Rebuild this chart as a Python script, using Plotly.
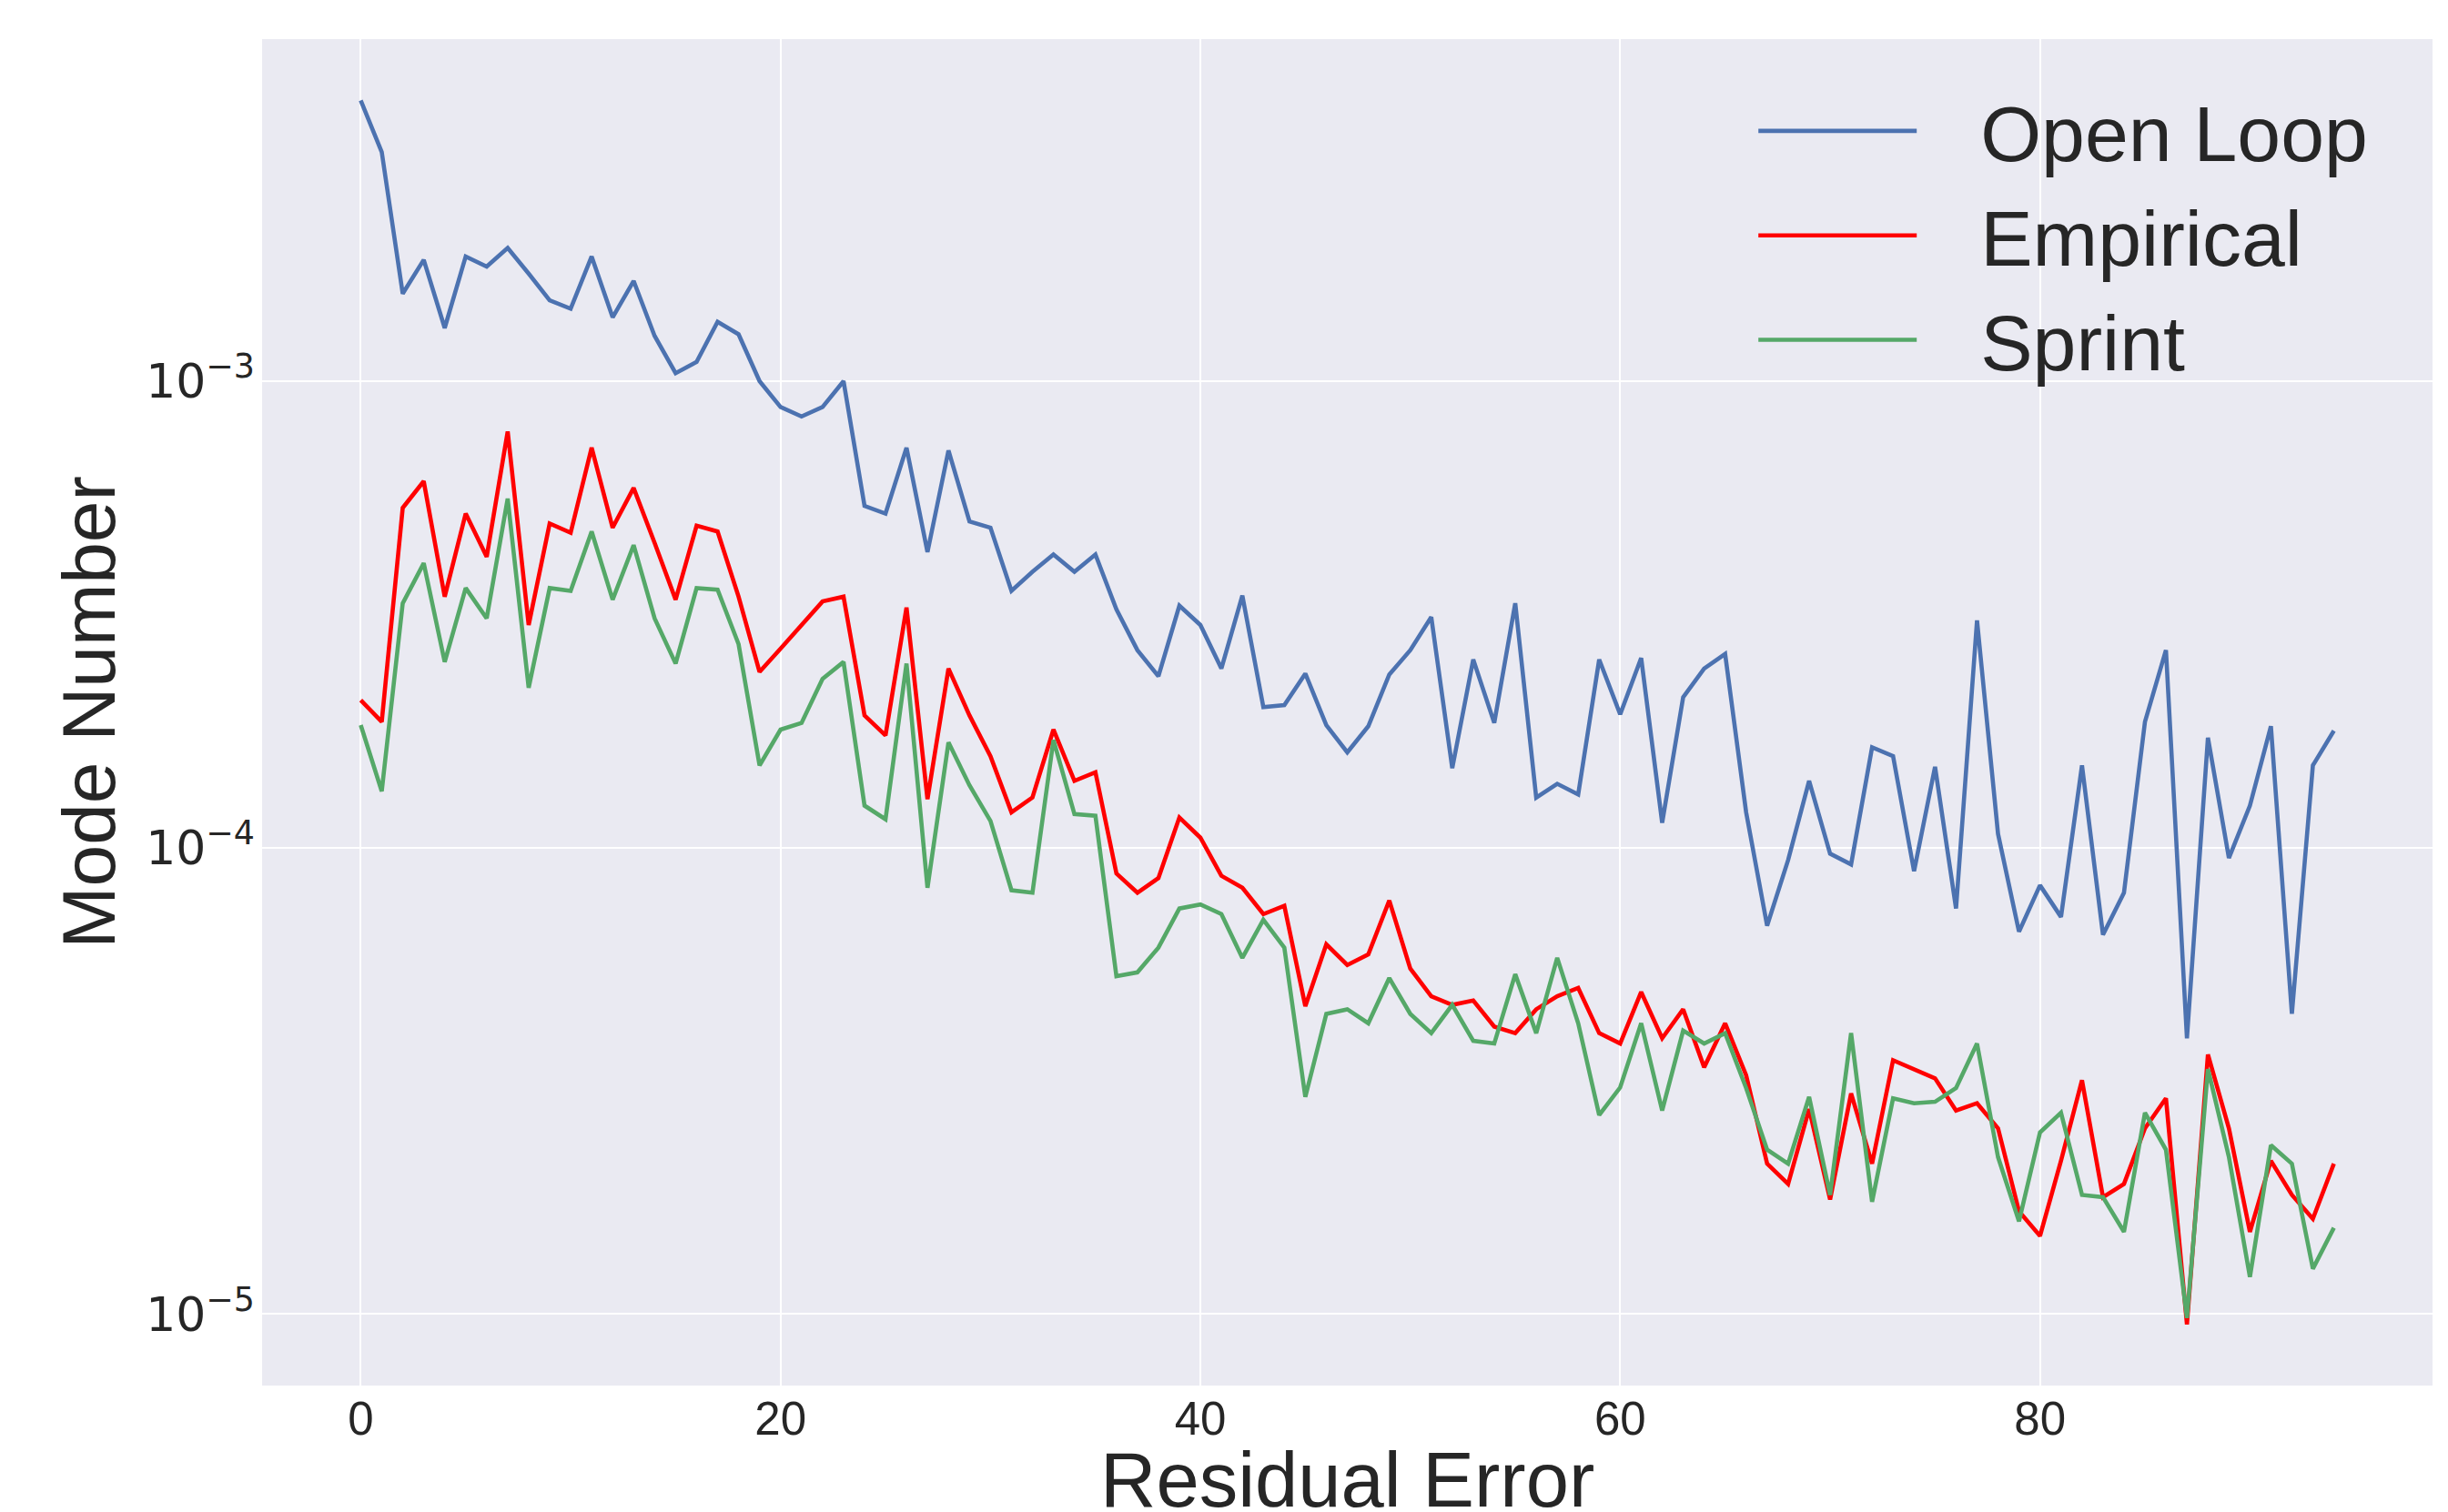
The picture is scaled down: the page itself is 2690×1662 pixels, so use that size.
import numpy as np
import plotly.graph_objects as go

residual_error = list(range(95))

open_loop = [
    4.0e-3, 3.1e-3, 1.54e-3, 1.82e-3, 1.30e-3, 1.85e-3, 1.76e-3, 1.93e-3, 1.70e-3, 1.49e-3,
    1.43e-3, 1.85e-3, 1.37e-3, 1.64e-3, 1.25e-3, 1.04e-3, 1.10e-3, 1.34e-3, 1.26e-3, 1.0e-3,
    8.8e-4, 8.4e-4, 8.8e-4, 1.0e-3, 5.4e-4, 5.2e-4, 7.2e-4, 4.3e-4, 7.1e-4, 5.0e-4,
    4.85e-4, 3.55e-4, 3.9e-4, 4.25e-4, 3.9e-4, 4.25e-4, 3.24e-4, 2.65e-4, 2.33e-4, 3.3e-4,
    3.0e-4, 2.42e-4, 3.47e-4, 2.0e-4, 2.02e-4, 2.36e-4, 1.83e-4, 1.6e-4, 1.82e-4, 2.35e-4,
    2.65e-4, 3.12e-4, 1.48e-4, 2.53e-4, 1.85e-4, 3.34e-4, 1.28e-4, 1.37e-4, 1.3e-4, 2.53e-4,
    1.93e-4, 2.55e-4, 1.13e-4, 2.1e-4, 2.42e-4, 2.6e-4, 1.19e-4, 6.8e-5, 9.4e-5, 1.39e-4,
    9.7e-5, 9.2e-5, 1.64e-4, 1.57e-4, 8.9e-5, 1.49e-4, 7.4e-5, 3.07e-4, 1.07e-4, 6.6e-5,
    8.3e-5, 7.1e-5, 1.5e-4, 6.5e-5, 8.0e-5, 1.86e-4, 2.65e-4, 3.9e-5, 1.72e-4, 9.5e-5,
    1.23e-4, 1.82e-4, 4.4e-5, 1.5e-4, 1.78e-4,
]

empirical = [
    2.07e-4, 1.86e-4, 5.35e-4, 6.1e-4, 3.45e-4, 5.2e-4, 4.2e-4, 7.8e-4, 3.0e-4, 4.95e-4,
    4.73e-4, 7.2e-4, 4.85e-4, 5.9e-4, 4.5e-4, 3.4e-4, 4.9e-4, 4.76e-4, 3.45e-4, 2.38e-4,
    2.67e-4, 3.0e-4, 3.37e-4, 3.45e-4, 1.92e-4, 1.74e-4, 3.27e-4, 1.27e-4, 2.42e-4, 1.92e-4,
    1.57e-4, 1.19e-4, 1.28e-4, 1.79e-4, 1.39e-4, 1.45e-4, 8.8e-5, 8.0e-5, 8.6e-5, 1.16e-4,
    1.05e-4, 8.7e-5, 8.2e-5, 7.2e-5, 7.5e-5, 4.57e-5, 6.2e-5, 5.6e-5, 5.9e-5, 7.7e-5,
    5.5e-5, 4.8e-5, 4.6e-5, 4.7e-5, 4.13e-5, 4.0e-5, 4.5e-5, 4.8e-5, 5.0e-5, 4.0e-5,
    3.8e-5, 4.9e-5, 3.9e-5, 4.5e-5, 3.38e-5, 4.2e-5, 3.25e-5, 2.1e-5, 1.9e-5, 2.75e-5,
    1.76e-5, 2.97e-5, 2.1e-5, 3.5e-5, 3.35e-5, 3.2e-5, 2.73e-5, 2.83e-5, 2.5e-5, 1.66e-5,
    1.47e-5, 2.13e-5, 3.17e-5, 1.78e-5, 1.9e-5, 2.5e-5, 2.9e-5, 9.5e-6, 3.6e-5, 2.5e-5,
    1.5e-5, 2.13e-5, 1.8e-5, 1.6e-5, 2.1e-5,
]

sprint = [
    1.83e-4, 1.32e-4, 3.34e-4, 4.07e-4, 2.5e-4, 3.6e-4, 3.1e-4, 5.6e-4, 2.2e-4, 3.6e-4,
    3.55e-4, 4.76e-4, 3.4e-4, 4.45e-4, 3.1e-4, 2.48e-4, 3.6e-4, 3.57e-4, 2.73e-4, 1.5e-4,
    1.79e-4, 1.85e-4, 2.3e-4, 2.5e-4, 1.23e-4, 1.15e-4, 2.48e-4, 8.2e-5, 1.68e-4, 1.36e-4,
    1.14e-4, 8.1e-5, 8.0e-5, 1.7e-4, 1.18e-4, 1.17e-4, 5.3e-5, 5.4e-5, 6.1e-5, 7.4e-5,
    7.55e-5, 7.2e-5, 5.8e-5, 7.0e-5, 6.1e-5, 2.92e-5, 4.4e-5, 4.5e-5, 4.2e-5, 5.25e-5,
    4.4e-5, 4.0e-5, 4.6e-5, 3.85e-5, 3.8e-5, 5.35e-5, 4.0e-5, 5.8e-5, 4.2e-5, 2.67e-5,
    3.06e-5, 4.2e-5, 2.73e-5, 4.05e-5, 3.8e-5, 4.0e-5, 3.05e-5, 2.25e-5, 2.1e-5, 2.92e-5,
    1.8e-5, 4.0e-5, 1.74e-5, 2.9e-5, 2.83e-5, 2.85e-5, 3.05e-5, 3.8e-5, 2.17e-5, 1.58e-5,
    2.45e-5, 2.7e-5, 1.8e-5, 1.78e-5, 1.5e-5, 2.7e-5, 2.25e-5, 9.8e-6, 3.35e-5, 2.17e-5,
    1.2e-5, 2.3e-5, 2.1e-5, 1.25e-5, 1.53e-5,
]

series_names = ["Open Loop", "Empirical", "Sprint"]
series_colors = ["#4C72B0", "#FF0000", "#55A868"]

y_tick_vals = [1e-5, 1e-4, 1e-3]
y_tick_text = ["10<sup>−5</sup>", "10<sup>−4</sup>", "10<sup>−3</sup>"]
x_tick_vals = [0, 20, 40, 60, 80]
x_title = "Residual Error"
y_title = "Mode Number"

GAP = "\u00a0\u00a0\u2009"  # visual gap between legend line and label

fig = go.Figure()
for name, vals, col in zip(series_names, [open_loop, empirical, sprint], series_colors):
    fig.add_trace(go.Scatter(x=residual_error, y=vals, mode="lines", name=GAP + name,
                             line=dict(color=col, width=4.6)))

# matplotlib-style 5% margins
xmin, xmax = min(residual_error), max(residual_error)
xpad = 0.05 * (xmax - xmin)
all_y = np.log10(np.array(open_loop + empirical + sprint))
ylo, yhi = all_y.min(), all_y.max()
ypad = 0.05 * (yhi - ylo)

text_color = "#262626"
fig.update_layout(
    width=2690, height=1662,
    margin=dict(l=288, r=17, t=43, b=139),
    paper_bgcolor="white",
    plot_bgcolor="#EAEAF2",
    showlegend=True,
    legend=dict(
        x=0.6873, y=0.974, xanchor="left", yanchor="top",
        bgcolor="rgba(0,0,0,0)",
        font=dict(family="Liberation Sans", size=86, color=text_color),
        itemwidth=174,
    ),
    xaxis=dict(
        automargin=False,
        range=[xmin - xpad, xmax + xpad],
        tickvals=x_tick_vals,
        showgrid=True, gridcolor="white", gridwidth=2,
        zeroline=False, showline=False, ticks="",
        ticklabelstandoff=2,
        tickfont=dict(family="Liberation Sans", size=51, color=text_color),
    ),
    yaxis=dict(
        automargin=False,
        type="log",
        range=[ylo - ypad, yhi + ypad],
        tickvals=y_tick_vals, ticktext=y_tick_text,
        showgrid=True, gridcolor="white", gridwidth=2,
        zeroline=False, showline=False, ticks="",
        ticklabelstandoff=7,
        tickfont=dict(family="DejaVu Sans", size=52, color=text_color),
        title=dict(text=y_title, standoff=6,
                   font=dict(family="Liberation Sans", size=82, color=text_color)),
    ),
    annotations=[dict(
        text=x_title, xref="paper", yref="paper", x=0.5, y=-0.0696,
        xanchor="center", yanchor="middle", showarrow=False,
        font=dict(family="Liberation Sans", size=85, color=text_color),
    )],
)

fig.write_html("out.html")
